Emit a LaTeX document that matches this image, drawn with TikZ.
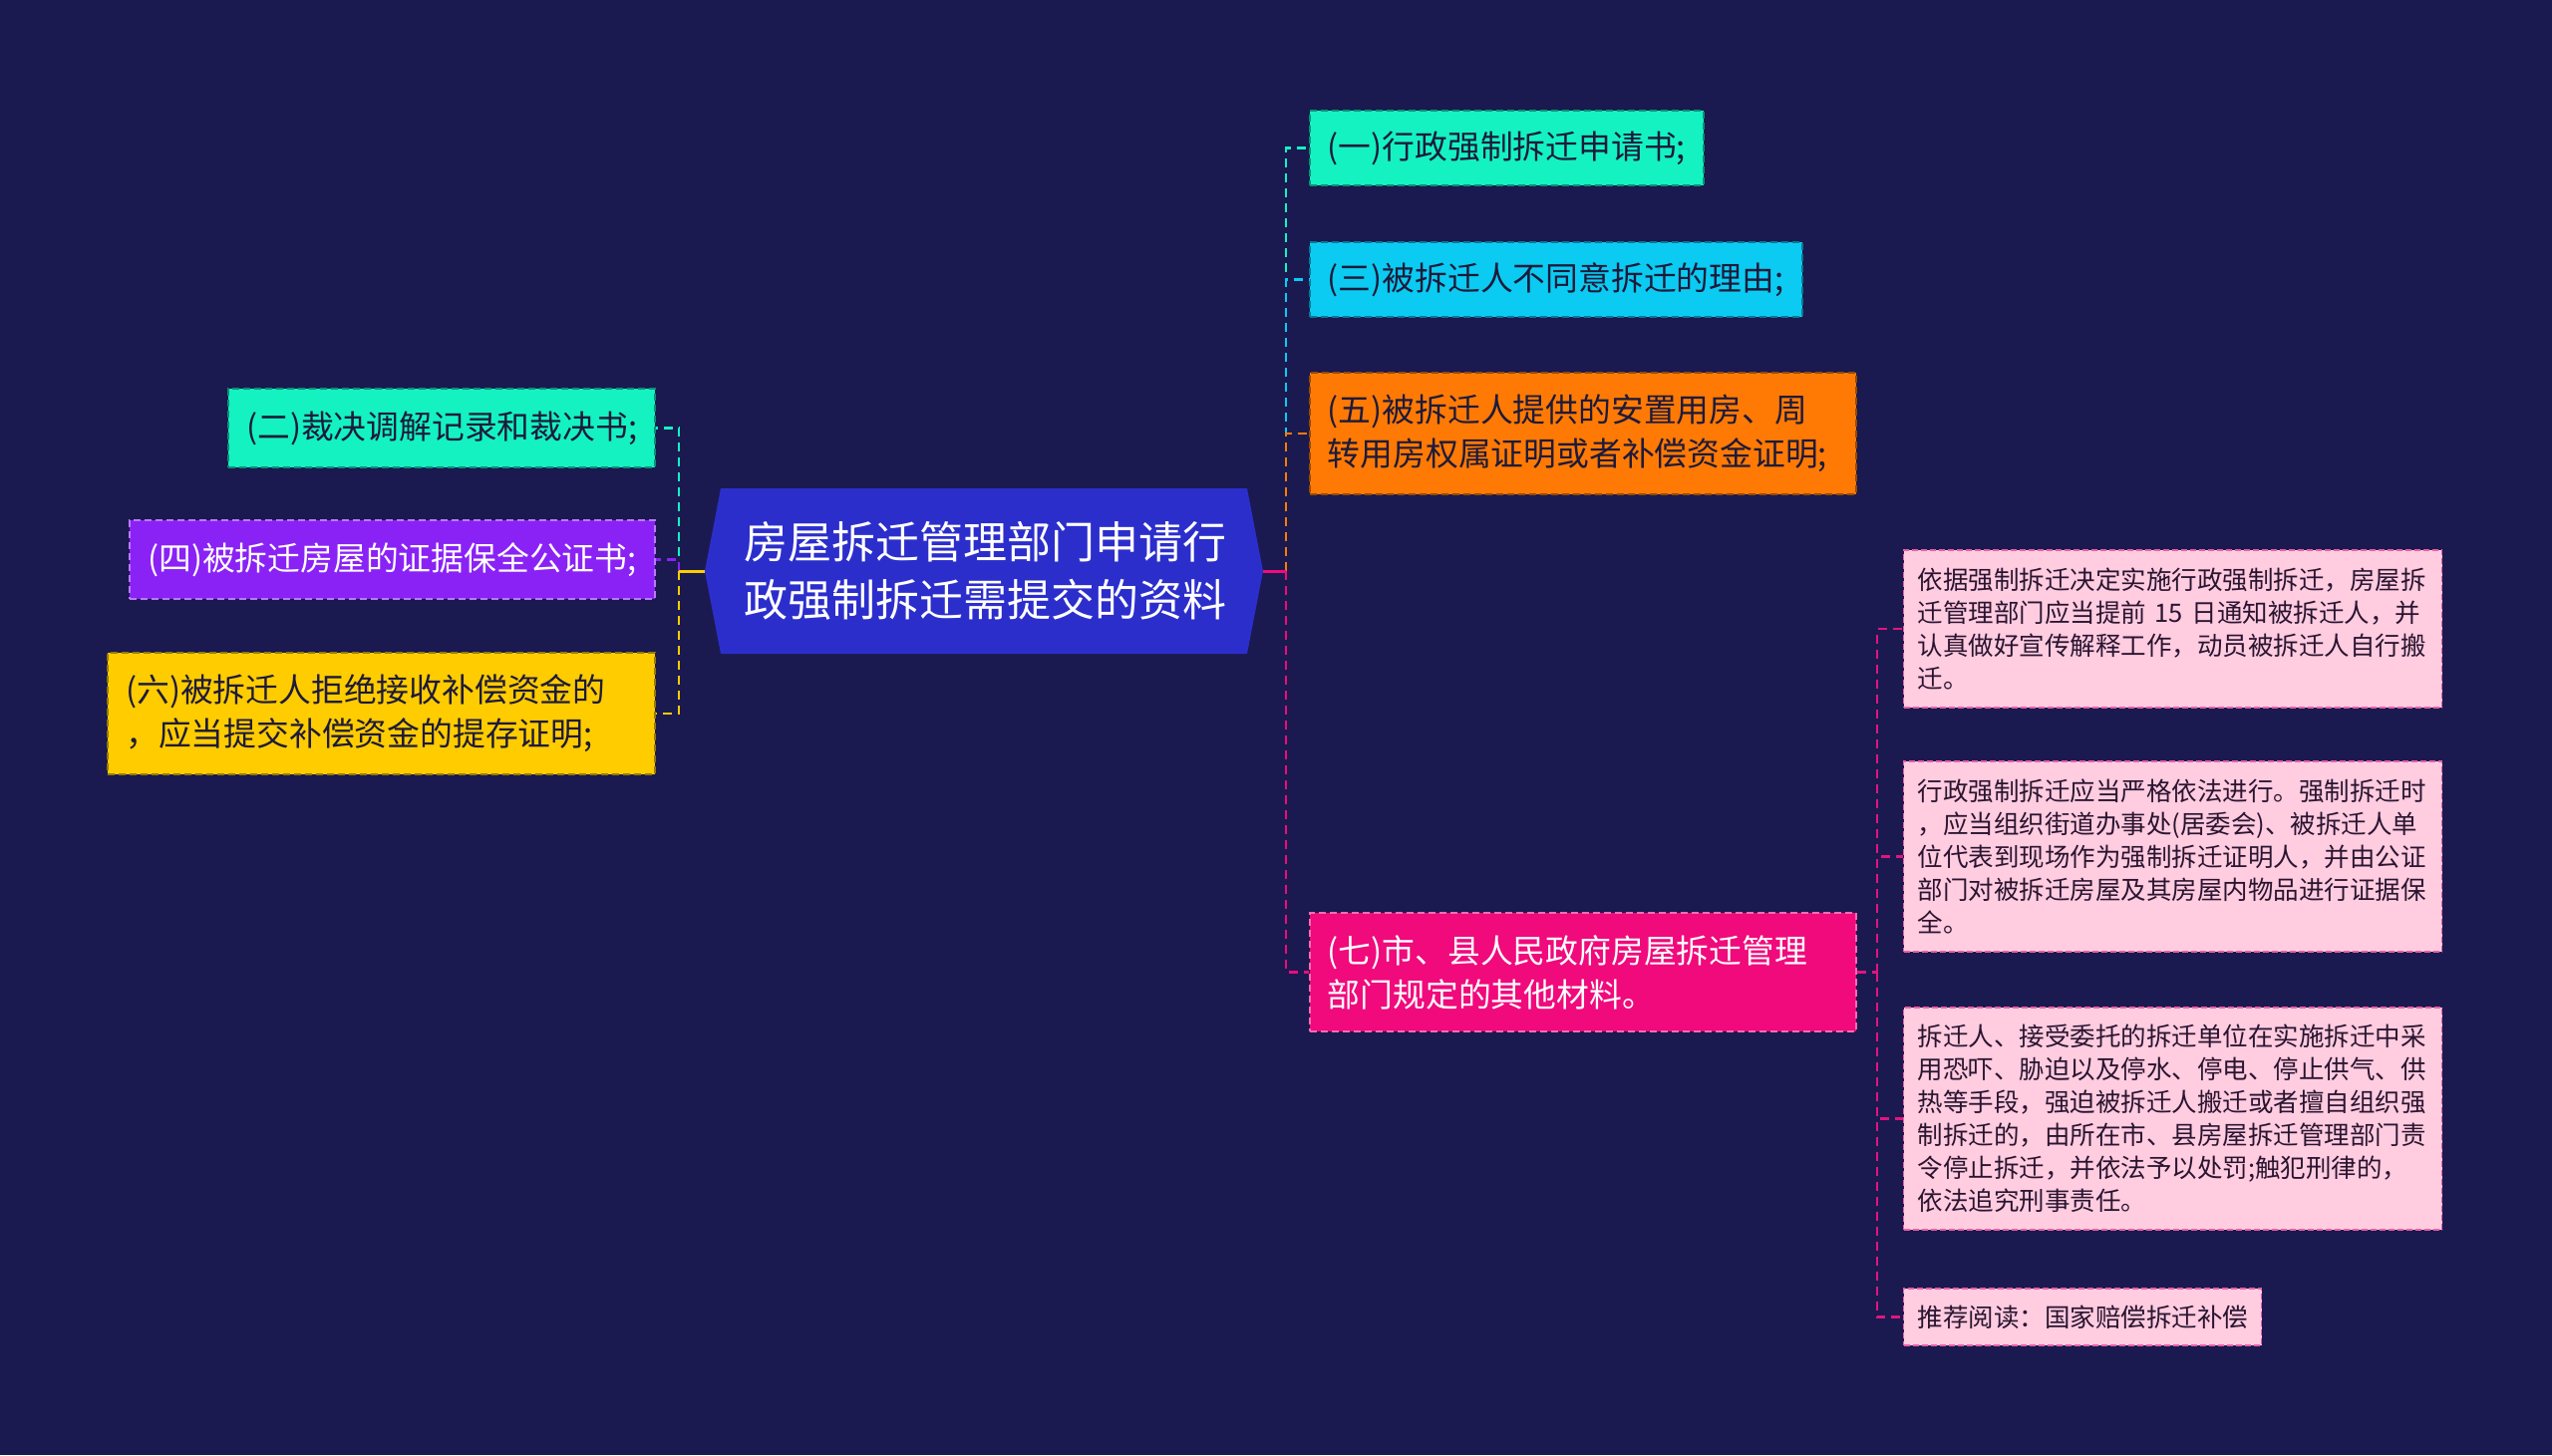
\documentclass[tikz,border=0pt]{standalone}
\usepackage{fontspec}
\setmainfont{Noto Sans CJK SC}
\definecolor{bg}{HTML}{1A1A50}
\definecolor{rootc}{HTML}{2C2ECC}
\definecolor{tealc}{HTML}{14F2C2}
\definecolor{cyanc}{HTML}{0BCBF2}
\definecolor{orangec}{HTML}{FF7A05}
\definecolor{purplec}{HTML}{8A22F5}
\definecolor{goldc}{HTML}{FFCC00}
\definecolor{magc}{HTML}{F00A7C}
\definecolor{pinkc}{HTML}{FFCCE0}
\definecolor{darktxt}{HTML}{1E1A3A}
\definecolor{leaftxt}{HTML}{2A1530}
\definecolor{leafline}{HTML}{E0157F}
\tikzset{
  box/.style={rectangle, anchor=west, inner xsep=18pt, inner ysep=0pt, align=left,
    font=\fontsize{32.8}{44}\selectfont, dashed, dash pattern=on 7pt off 4pt, line width=1.6pt},
  leaf/.style={rectangle, anchor=west, inner xsep=14pt, inner ysep=0pt, align=left,
    font=\fontsize{25.5}{33}\selectfont, fill=pinkc, draw=leafline!60!pinkc, text=leaftxt,
    dashed, dash pattern=on 6pt off 3pt, line width=1.4pt},
  link/.style={line width=2.6pt, dash pattern=on 9pt off 6pt},
  solidlink/.style={line width=3pt}
}
\begin{document}
\begin{tikzpicture}[x=1pt,y=-1pt]
\fill[bg] (0,0) rectangle (2560,1460);
\useasboundingbox (0,0) rectangle (2560,1460);

% root
\node[minimum width=560pt, minimum height=166pt, inner sep=0pt] (root) at (987,573) {};
\fill[rootc] (723,490) -- (1251,490) -- (1267,573) -- (1251,656) -- (723,656) -- (707,573) -- cycle;
\node[text=white, align=center, font=\fontsize{44}{58}\selectfont] (roottext) at (988,573) {房屋拆迁管理部门申请行\\政强制拆迁需提交的资料};

% right children
\node[box, fill=tealc, draw=tealc!60!black, text=darktxt, text width=359pt, minimum height=75pt] (n1) at (1313,148.5) {(一)行政强制拆迁申请书;};
\node[box, fill=cyanc, draw=cyanc!60!black, text=darktxt, text width=458pt, minimum height=75pt] (n3) at (1313,280.5) {(三)被拆迁人不同意拆迁的理由;};
\node[box, fill=orangec, draw=orangec!60!black, text=darktxt, text width=512pt, minimum height=122pt] (n5) at (1313,435) {(五)被拆迁人提供的安置用房、周\\转用房权属证明或者补偿资金证明;};
\node[box, fill=magc, draw=magc!60!white, text=white, text width=512pt, minimum height=119pt] (n7) at (1313,975.5) {(七)市、县人民政府房屋拆迁管理\\部门规定的其他材料。};

% left children
\node[box, anchor=east, fill=tealc, draw=tealc!60!black, text=darktxt, text width=392pt, minimum height=79pt] (n2) at (658,429.5) {(二)裁决调解记录和裁决书;};
\node[box, anchor=east, fill=purplec, draw=purplec!60!white, text=white, text width=491pt, minimum height=79pt] (n4) at (658,561.5) {(四)被拆迁房屋的证据保全公证书;};
\node[box, anchor=east, fill=goldc, draw=goldc!60!black, text=darktxt, text width=513pt, minimum height=122pt] (n6) at (658,716) {(六)被拆迁人拒绝接收补偿资金的\\，应当提交补偿资金的提存证明;};

% leaves
\node[leaf, text width=512pt, minimum height=158pt] (l1) at (1909,631) {依据强制拆迁决定实施行政强制拆迁，房屋拆\\迁管理部门应当提前 15 日通知被拆迁人，并\\认真做好宣传解释工作，动员被拆迁人自行搬\\迁。};
\node[leaf, text width=512pt, minimum height=191pt] (l2) at (1909,859.5) {行政强制拆迁应当严格依法进行。强制拆迁时\\，应当组织街道办事处(居委会)、被拆迁人单\\位代表到现场作为强制拆迁证明人，并由公证\\部门对被拆迁房屋及其房屋内物品进行证据保\\全。};
\node[leaf, text width=512pt, minimum height=223pt] (l3) at (1909,1122.5) {拆迁人、接受委托的拆迁单位在实施拆迁中采\\用恐吓、胁迫以及停水、停电、停止供气、供\\热等手段，强迫被拆迁人搬迁或者擅自组织强\\制拆迁的，由所在市、县房屋拆迁管理部门责\\令停止拆迁，并依法予以处罚;触犯刑律的，\\依法追究刑事责任。};
\node[leaf, text width=331pt, minimum height=57pt] (l4) at (1909,1321.5) {推荐阅读：国家赔偿拆迁补偿};

% connectors
\coordinate (rt) at (1290,573);
\coordinate (lt) at (681,573);
\coordinate (pt) at (1883,975.5);

\draw[link, tealc] (rt) |- (n1.west);
\draw[link, cyanc] (rt) |- (n3.west);
\draw[link, orangec] (rt) |- (n5.west);
\draw[link, magc] (rt) |- (n7.west);
\draw[solidlink, magc] (root.east) -- (rt);

\draw[link, tealc] (lt) |- (n2.east);
\draw[link, purplec] (lt) |- (n4.east);
\draw[link, goldc] (lt) |- (n6.east);
\draw[solidlink, goldc] (root.west) -- (lt);

\draw[link, leafline] (n7.east) -- (pt);
\draw[link, leafline] (pt) |- (l1.west);
\draw[link, leafline] (pt) |- (l2.west);
\draw[link, leafline] (pt) |- (l3.west);
\draw[link, leafline] (pt) |- (l4.west);
\end{tikzpicture}
\end{document}
